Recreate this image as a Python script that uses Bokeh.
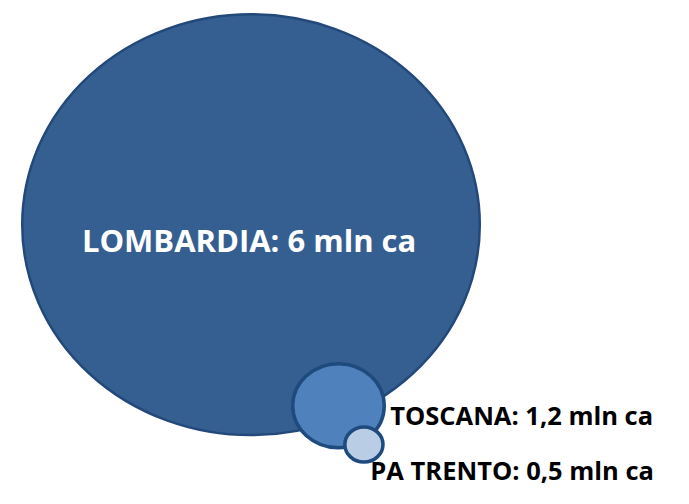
from bokeh.plotting import figure
from bokeh.models import ColumnDataSource, Range1d
from bokeh.core.properties import value
from bokeh.embed import file_html
from bokeh.resources import INLINE

# ---- data ----
regions = ["LOMBARDIA", "TOSCANA", "PA TRENTO"]
values = [6.0, 1.2, 0.5]          # milioni ca
value_labels = ["6", "1,2", "0,5"]

# ---- layout (data units; bubble radius = value) ----
cx = [6.570, 8.864, 9.531]
cy = [7.522, 2.361, 1.255]
fills = ["#365F91", "#4F81BD", "#B9CDE5"]
lines = ["#23487A", "#1F4A7D", "#1F4A7D"]
line_w = [2.5, 3.5, 3.5]

W, H = 673, 488
kx, ky = 38.13, 35.07   # px per data unit

p = figure(width=W, height=H, output_backend="svg", toolbar_location=None,
           x_range=Range1d(0, W / kx), y_range=Range1d(0, H / ky),
           min_border=0, outline_line_color=None, background_fill_color="white")
p.axis.visible = False
p.grid.visible = False

src = ColumnDataSource(dict(x=cx, y=cy, w=[2 * v for v in values], h=[2 * v for v in values],
                            fill=fills, line=lines, lw=line_w))
p.ellipse(x="x", y="y", width="w", height="h", fill_color="fill", line_color="line",
          line_width="lw", source=src)

texts = [f"{r}: {v} mln ca" for r, v in zip(regions, value_labels)]

# Lombardia label, white, centered in bubble
p.text(x=[6.52], y=[7.097], text=[texts[0]], text_color="white", text_align="center",
       text_baseline="alphabetic", text_font=value("Open Sans"), text_font_style="bold",
       text_font_size="31px")
# others, black, right of bubbles
p.text(x=[10.22, 9.70], y=[2.10, 0.53], text=texts[1:], text_color="black", text_align="left",
       text_baseline="middle", text_font=value("Open Sans"), text_font_style="bold",
       text_font_size="25.5px")

open("out.html", "w").write(file_html(p, INLINE))
